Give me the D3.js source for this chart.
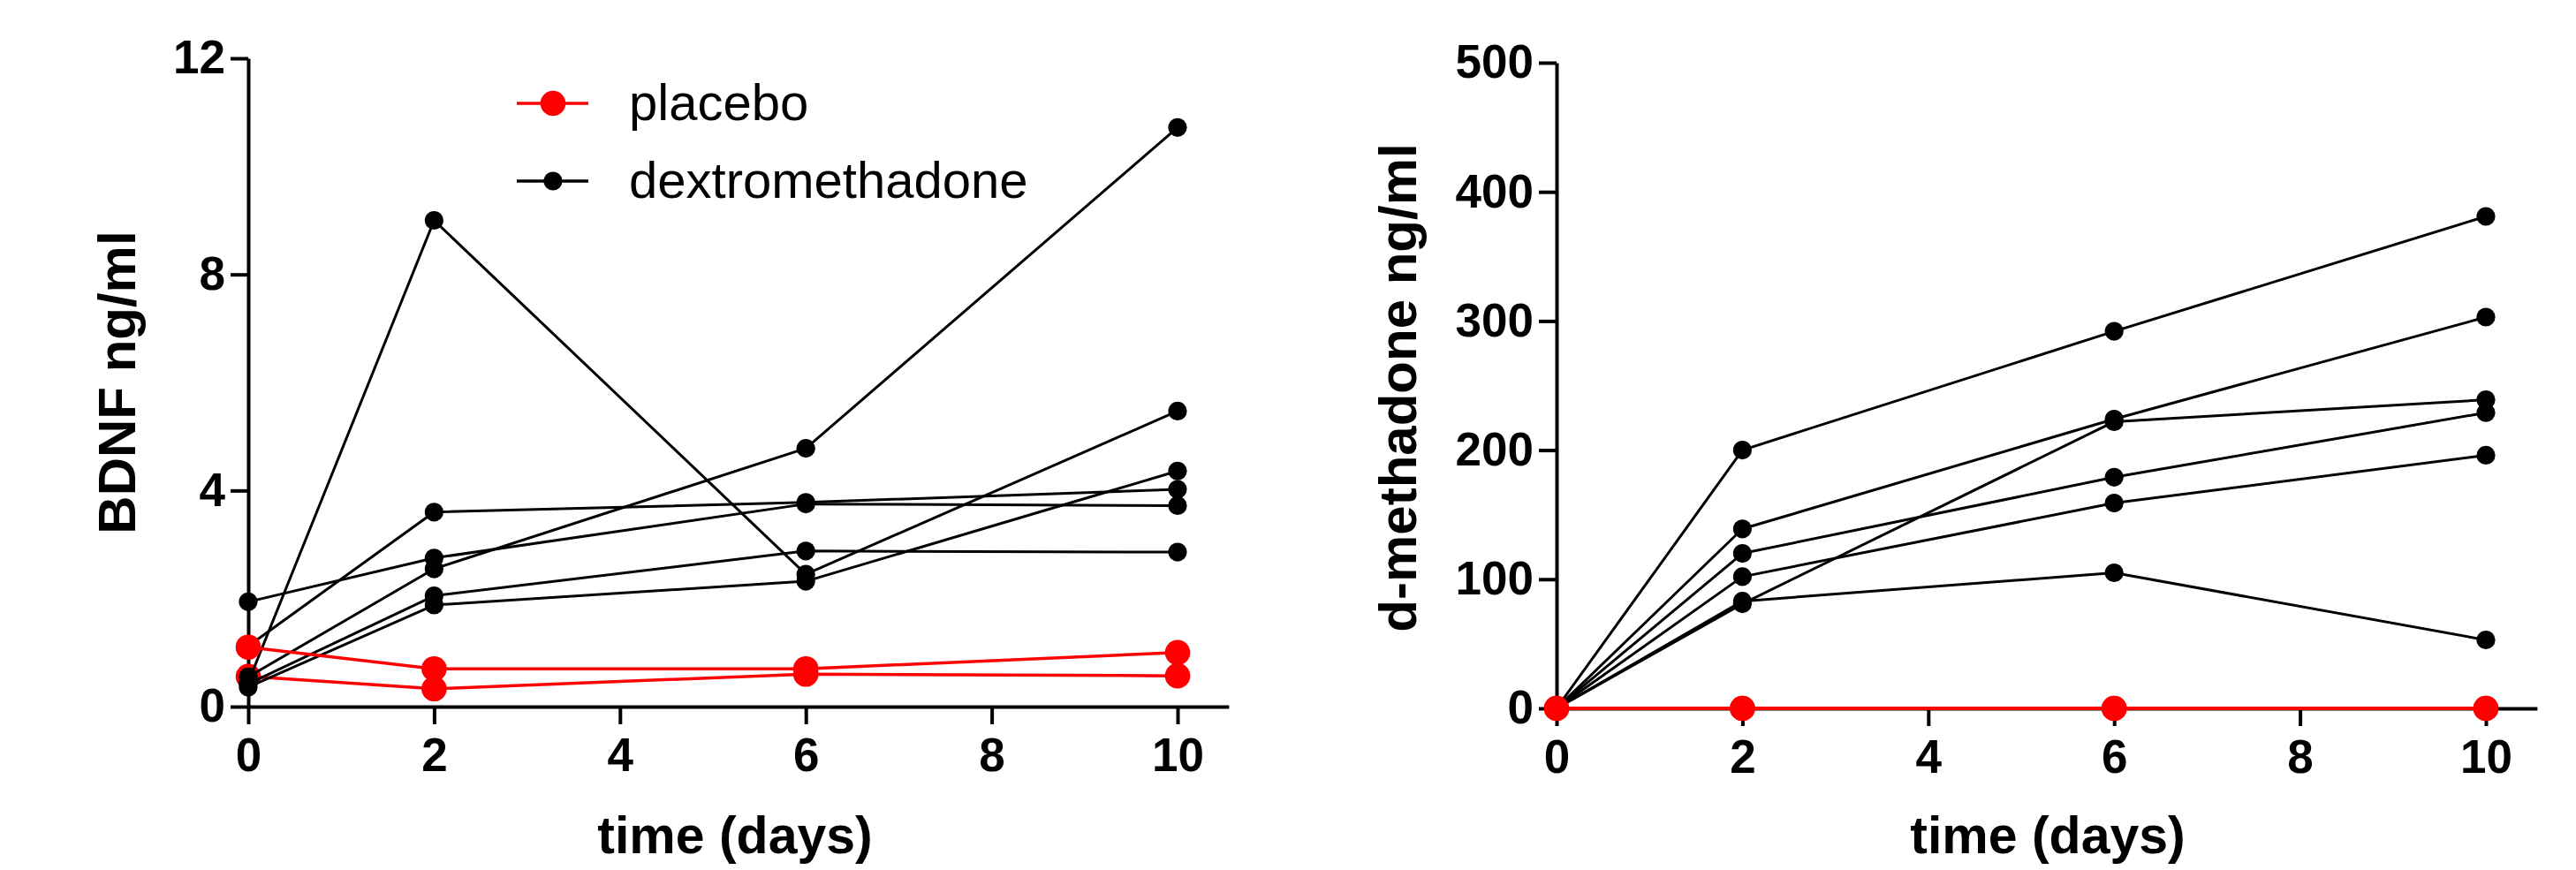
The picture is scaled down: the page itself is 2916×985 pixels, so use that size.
<!DOCTYPE html>
<html>
<head>
<meta charset="utf-8">
<script src="https://cdn.jsdelivr.net/npm/d3@7"></script>
<style>
  html, body { margin: 0; padding: 0; background: #fff; }
  svg { display: block; }
  text { font-family: "Liberation Sans", Arial, sans-serif; }
</style>
</head>
<body>
<svg id="chart" width="2916" height="985"></svg>
<script>
// ---- data ----
const days = [0, 2, 6, 10];
const xTicks = [0, 2, 4, 6, 8, 10];

const bdnfTicks = [0, 4, 8, 12];
const bdnfDextro = [
  [0.45, 9.0, 2.45, 5.47],
  [0.55, 2.55, 4.78, 10.72],
  [1.12, 3.6, 3.78, 4.02],
  [1.94, 2.75, 3.75, 3.72],
  [0.42, 2.05, 2.88, 2.86],
  [0.36, 1.88, 2.32, 4.36]
];
const bdnfPlaceboLow = [0.56, 0.33, 0.6, 0.57];
const bdnfPlaceboHigh = [1.1, 0.7, 0.7, 1.0];

const methTicks = [0, 100, 200, 300, 400, 500];
const methDextro = [
  [0, 200, 292, 381],
  [0, 139, 224, 303],
  [0, 81, 222, 239],
  [0, 120, 179, 229],
  [0, 102, 159, 196],
  [0, 83, 105, 53]
];
const methPlaceboLow = [0, 0, 0, 0];
const methPlaceboHigh = [0, 0, 0, 0];

const legendItems = ["placebo", "dextromethadone"];

// ---- drawing ----
const svg = d3.select("#chart");
svg.append("rect").attr("width", 2916).attr("height", 985).attr("fill", "#fff");

const RED = "#ff0000", BLACK = "#000000";

function panel(cfg) {
  const g = svg.append("g");
  const x = d3.scaleLinear().domain([0, 10.55]).range([cfg.x0, cfg.x0 + 10.55 * 105.2]);
  const y = d3.scaleLinear().domain([0, cfg.yMax]).range([cfg.yBottom, cfg.yTop]);

  // axes
  const yAxis = d3.axisLeft(y).tickValues(cfg.yTicks).tickSize(20).tickSizeOuter(0).tickPadding(6);
  const xAxis = d3.axisBottom(x).tickValues(xTicks).tickSize(20).tickSizeOuter(0).tickPadding(15);

  const ya = g.append("g").attr("transform", `translate(${cfg.x0},0)`).call(yAxis);
  const xa = g.append("g").attr("transform", `translate(0,${cfg.yBottom})`).call(xAxis);
  [ya, xa].forEach(a => {
    a.select(".domain").attr("stroke", BLACK).attr("stroke-width", 4);
    a.selectAll(".tick line").attr("stroke", BLACK).attr("stroke-width", 4);
    a.selectAll(".tick text").attr("fill", BLACK)
      .style("font-family", '"Liberation Sans", Arial, sans-serif')
      .style("font-weight", "bold").style("font-size", "53px");
  });

  const line = d3.line().x((d, i) => x(days[i])).y(d => y(d));

  function series(vals, color, r, lw) {
    g.append("path").datum(vals).attr("d", line)
      .attr("fill", "none").attr("stroke", color).attr("stroke-width", lw)
      .attr("stroke-linejoin", "round");
    g.selectAll(null).data(vals).enter().append("circle")
      .attr("cx", (d, i) => x(days[i])).attr("cy", d => y(d))
      .attr("r", r).attr("fill", color);
  }

  // draw order: lower placebo, dextro series, upper placebo
  series(cfg.placeboLow, RED, 14.3, 3.5);
  cfg.dextro.forEach(s => series(s, BLACK, 10.6, 3));
  series(cfg.placeboHigh, RED, 14.3, 3.5);

  // titles
  g.append("text").attr("x", cfg.xTitleX).attr("y", 966)
    .attr("text-anchor", "middle").style("font-weight", "bold").style("font-size", "59px")
    .text("time (days)");
  g.append("text")
    .attr("transform", `translate(${cfg.yTitleX},${cfg.yTitleY}) rotate(-90)`)
    .attr("text-anchor", "middle").style("font-weight", "bold").style("font-size", "60px")
    .text(cfg.yTitle);
  return g;
}

panel({
  x0: 281, yBottom: 800, yTop: 66, yMax: 12, yTicks: bdnfTicks,
  dextro: bdnfDextro, placeboLow: bdnfPlaceboLow, placeboHigh: bdnfPlaceboHigh,
  xTitleX: 832, yTitleX: 153, yTitleY: 433, yTitle: "BDNF ng/ml"
});

panel({
  x0: 1762, yBottom: 802, yTop: 71, yMax: 500, yTicks: methTicks,
  dextro: methDextro, placeboLow: methPlaceboLow, placeboHigh: methPlaceboHigh,
  xTitleX: 2318, yTitleX: 1603, yTitleY: 439, yTitle: "d-methadone ng/ml"
});

// legend
const leg = svg.append("g");
const legColors = [RED, BLACK];
const legR = [14.3, 10.6];
const legY = [117, 205];
legendItems.forEach((name, i) => {
  leg.append("line").attr("x1", 585).attr("x2", 666).attr("y1", legY[i]).attr("y2", legY[i])
    .attr("stroke", legColors[i]).attr("stroke-width", 3.5);
  leg.append("circle").attr("cx", 626).attr("cy", legY[i]).attr("r", legR[i]).attr("fill", legColors[i]);
  leg.append("text").attr("x", 712).attr("y", legY[i] + 19)
    .style("font-size", "58px").style("font-weight", "normal").attr("fill", BLACK)
    .text(name);
});
</script>
</body>
</html>
